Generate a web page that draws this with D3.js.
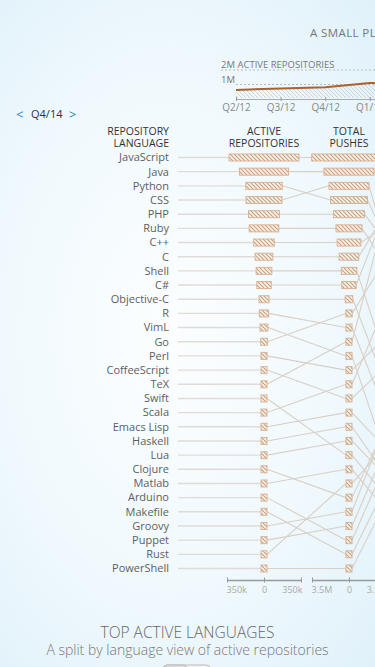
<!DOCTYPE html>
<html>
<head>
<meta charset="utf-8">
<script src="https://cdn.jsdelivr.net/npm/d3@7/dist/d3.min.js"></script>
<style>
    html, body { margin: 0; padding: 0; width: 375px; height: 667px; overflow: hidden; }
    body {
        background: radial-gradient(ellipse 80% 70% at 45% 50%, #fcfeff 0%, #f0f9fd 55%, #e0f1fa 100%);
        font-family: "Open Sans", sans-serif;
    }
    svg text { font-family: "Open Sans", sans-serif; }
</style>
</head>
<body>
<svg id="chart" width="760" height="667"></svg>
<script>
// quarter totals for the small timeline on top
var quarters = ["Q2/12", "Q3/12", "Q4/12", "Q1/13", "Q2/13", "Q3/13", "Q4/13", "Q1/14", "Q2/14", "Q3/14", "Q4/14"];
var quarterActive = [620000, 730000, 810000, 1100000, 1200000, 1300000, 1450000, 1620000, 1750000, 1860000, 1980000];

// languages, in order of active repositories (Q4/14)
var languages = ["JavaScript", "Java", "Python", "CSS", "PHP", "Ruby", "C++", "C", "Shell", "C#",
    "Objective-C", "R", "VimL", "Go", "Perl", "CoffeeScript", "TeX", "Swift", "Scala", "Emacs Lisp",
    "Haskell", "Lua", "Clojure", "Matlab", "Arduino", "Makefile", "Groovy", "Puppet", "Rust", "PowerShell"];
var activeRepos = [331000, 232000, 172000, 170000, 147000, 140000, 98000, 84000, 74000, 68000,
    47000, 44000, 38000, 32000, 27000, 25000, 23000, 21000, 19000, 17500,
    16000, 15000, 14000, 13000, 12000, 11000, 10000, 9000, 8000, 7000];
var totalPushes = [3530000, 2370000, 1750000, 1890000, 1470000, 1230000, 1120000, 920000, 730000, 680000,
    360000, 270000, 230000, 300000, 210000, 170000, 250000, 130000, 190000, 160000,
    150000, 140000, 100000, 120000, 70000, 60000, 90000, 80000, 110000, 50000];
var pushesPerRepo = [10.9, 11.9, 10.0, 9.1, 10.3, 9.7, 11.5, 12.2, 6.4, 12.6,
    6.1, 5.5, 4.0, 11.2, 9.4, 8.8, 13.0, 4.6, 10.6, 5.8,
    4.9, 5.2, 8.2, 4.3, 7.6, 7.0, 8.5, 7.9, 7.3, 6.7];
var columnNames = [["ACTIVE", "REPOSITORIES"], ["TOTAL", "PUSHES"], ["PUSHES PER", "REPOSITORY"]];

var svg = d3.select("#chart");
var defs = svg.append("defs");

defs.append("pattern")
    .attr("id", "barHatch")
    .attr("patternUnits", "userSpaceOnUse")
    .attr("width", 4).attr("height", 4)
    .call(function (p) {
        p.append("rect").attr("width", 4).attr("height", 4).attr("fill", "#fbf4ee");
        p.append("path").attr("d", "M-1,3 l2,2 M0,0 l4,4 M3,-1 l2,2")
            .attr("stroke", "#cf9a74").attr("stroke-width", 1.1);
    });
defs.append("pattern")
    .attr("id", "areaHatch")
    .attr("patternUnits", "userSpaceOnUse")
    .attr("width", 4).attr("height", 4)
    .append("path").attr("d", "M-1,3 l2,2 M0,0 l4,4 M3,-1 l2,2")
    .attr("stroke", "#c9c9c9").attr("stroke-width", 0.8);

// ---- title + timeline
svg.append("text")
    .attr("x", 310).attr("y", 37)
    .style("font-size", "11.5px").style("letter-spacing", "0.4px")
    .style("fill", "#777")
    .text("A SMALL PLACE TO DISCOVER LANGUAGES IN GITHUB");

var tx = d3.scalePoint().domain(quarters).range([236, 236 + 44.6 * (quarters.length - 1)]);
var ty = d3.scaleLinear().domain([0, 2000000]).range([99, 70]);

svg.append("line")
    .attr("x1", 221).attr("x2", 760)
    .attr("y1", ty(2000000)).attr("y2", ty(2000000))
    .attr("stroke", "#bbb").attr("stroke-dasharray", "2,2");
svg.append("line")
    .attr("x1", 236).attr("x2", 760)
    .attr("y1", ty(1000000)).attr("y2", ty(1000000))
    .attr("stroke", "#bbb").attr("stroke-dasharray", "2,2");
svg.append("text").attr("x", 221).attr("y", ty(2000000) - 2)
    .style("font-size", "9.5px").style("fill", "#777").text("2M ACTIVE REPOSITORIES");
svg.append("text").attr("x", 221).attr("y", ty(1000000) - 2)
    .style("font-size", "9.5px").style("fill", "#777").text("1M");

var area = d3.area()
    .x(function (d, i) { return tx(quarters[i]); })
    .y0(ty(0) - 1)
    .y1(function (d) { return ty(d); });
svg.append("path").datum(quarterActive)
    .attr("d", area).attr("fill", "url(#areaHatch)");
svg.append("path").datum(quarterActive)
    .attr("d", d3.line().x(function (d, i) { return tx(quarters[i]); }).y(function (d) { return ty(d); }))
    .attr("fill", "none").attr("stroke", "#ad612b").attr("stroke-width", 2);

var tAxis = svg.append("g")
    .attr("transform", "translate(0," + ty(0) + ")")
    .call(d3.axisBottom(tx).tickSize(2).tickPadding(3).tickSizeOuter(0));
tAxis.select(".domain").attr("stroke", "#aaa");
tAxis.selectAll(".tick line").attr("stroke", "#999").attr("y1", -2).attr("y2", 2);
tAxis.selectAll("text").style("font-size", "10px").style("fill", "#888").attr("font-family", null);

// ---- quarter nav
var nav = svg.append("text").attr("y", 118).style("font-size", "11px");
nav.append("tspan").attr("x", 16).attr("dy", "0.5").style("font-size", "13px").style("fill", "#2f82c4").text("<");
nav.append("tspan").attr("x", 31).attr("dy", "-0.5").style("fill", "#333").text("Q4/14");
nav.append("tspan").attr("x", 69).attr("dy", "0.5").style("font-size", "13px").style("fill", "#2f82c4").text(">");

// ---- language table
var n = languages.length;
var rowY = d3.scalePoint().domain(d3.range(n)).range([157.5, 568.5]);
var colX = d3.scalePoint().domain([0, 1, 2]).range([264, 434]);
var barH = 7, minW = 6;

function rankOf(values) {
    var order = d3.range(values.length).sort(function (a, b) { return values[b] - values[a]; });
    var r = [];
    order.forEach(function (idx, pos) { r[idx] = pos; });
    return r;
}
var series = [activeRepos, totalPushes, pushesPerRepo];
var maxes = [350000, 3500000, 14];
var ranks = series.map(rankOf);
var halfW = series.map(function (s, c) {
    var w = d3.scaleLinear().domain([0, maxes[c]]).range([0, 37]);
    return s.map(function (v) { return Math.max(minW / 2, w(v)); });
});

var header = svg.append("g").style("font-size", "10.5px").style("fill", "#333");
header.append("text").attr("x", 169).attr("y", 134.5).attr("text-anchor", "end").text("REPOSITORY");
header.append("text").attr("x", 169).attr("y", 146.5).attr("text-anchor", "end").text("LANGUAGE");
columnNames.forEach(function (c, i) {
    header.append("text").attr("x", colX(i)).attr("y", 134.5).attr("text-anchor", "middle").text(c[0]);
    header.append("text").attr("x", colX(i)).attr("y", 146.5).attr("text-anchor", "middle").text(c[1]);
});

// lines from names to first column
svg.append("g").selectAll("line")
    .data(languages).enter().append("line")
    .attr("x1", 178)
    .attr("x2", function (d, i) { return colX(0) - halfW[0][i]; })
    .attr("y1", function (d, i) { return rowY(ranks[0][i]); })
    .attr("y2", function (d, i) { return rowY(ranks[0][i]); })
    .attr("stroke", "#e0dbd6").attr("stroke-width", 1.4);

// connectors between columns
for (var c = 0; c < 2; c++) {
    svg.append("g").selectAll("line")
        .data(languages).enter().append("line")
        .attr("x1", function (d, i) { return colX(c) + halfW[c][i]; })
        .attr("x2", function (d, i) { return colX(c + 1) - halfW[c + 1][i]; })
        .attr("y1", function (d, i) { return rowY(ranks[c][i]); })
        .attr("y2", function (d, i) { return rowY(ranks[c + 1][i]); })
        .attr("stroke", "#d9cfc5").attr("stroke-width", 1.1);
}

// bars
series.forEach(function (s, c) {
    svg.append("g").selectAll("rect")
        .data(languages).enter().append("rect")
        .attr("x", function (d, i) { return colX(c) - halfW[c][i]; })
        .attr("width", function (d, i) { return 2 * halfW[c][i]; })
        .attr("y", function (d, i) { return rowY(ranks[c][i]) - barH / 2; })
        .attr("height", barH)
        .attr("fill", "url(#barHatch)")
        .attr("stroke", "#d8b497").attr("stroke-width", 1);
});

// names
svg.append("g").selectAll("text")
    .data(languages).enter().append("text")
    .attr("x", 169)
    .attr("y", function (d, i) { return rowY(ranks[0][i]); })
    .attr("dy", "0.35em")
    .attr("text-anchor", "end")
    .style("font-size", "11px").style("fill", "#5e5e5e")
    .text(function (d) { return d; });

// small axes under the columns
var fmt = [function (v) { return v === 0 ? "0" : "350k"; }, function (v) { return v === 0 ? "0" : "3.5M"; }, function (v) { return v === 0 ? "0" : "14"; }];
maxes.forEach(function (m, c) {
    var ax = d3.scaleLinear().domain([-m, m]).range([colX(c) - 37, colX(c) + 37]);
    var g = svg.append("g")
        .attr("transform", "translate(0,580)")
        .call(d3.axisBottom(ax).tickValues([-m, 0, m]).tickSize(3).tickSizeOuter(0).tickFormat(fmt[c]));
    g.select(".domain").attr("stroke", "#999").attr("stroke-width", 1.5);
    g.selectAll(".tick line").attr("stroke", "#999").attr("y1", -2.5).attr("y2", 2.5);
    g.selectAll("text").attr("font-family", null).style("font-size", "9px").style("fill", "#aaa")
        .attr("y", 7)
        .attr("text-anchor", function (d) { return d < 0 ? "start" : d > 0 ? "end" : "middle"; })
        .attr("dx", function (d) { return d < 0 ? "-0.1em" : d > 0 ? "0.1em" : 0; });
});

// ---- footer
svg.append("text").attr("x", 187.5).attr("y", 638).attr("text-anchor", "middle")
    .style("font-size", "15.5px").style("font-weight", 300).style("fill", "#666")
    .text("TOP ACTIVE LANGUAGES");
svg.append("text").attr("x", 187.5).attr("y", 655).attr("text-anchor", "middle")
    .style("font-size", "14px").style("font-weight", 300).style("fill", "#777")
    .text("A split by language view of active repositories");
svg.append("rect").attr("x", 163).attr("y", 665).attr("width", 47).attr("height", 18).attr("rx", 4)
    .attr("fill", "#f2f2f2").attr("stroke", "#bbb");
svg.append("rect").attr("x", 163).attr("y", 665).attr("width", 24).attr("height", 18).attr("rx", 4)
    .attr("fill", "#ddd").attr("stroke", "#bbb");
</script>
</body>
</html>
